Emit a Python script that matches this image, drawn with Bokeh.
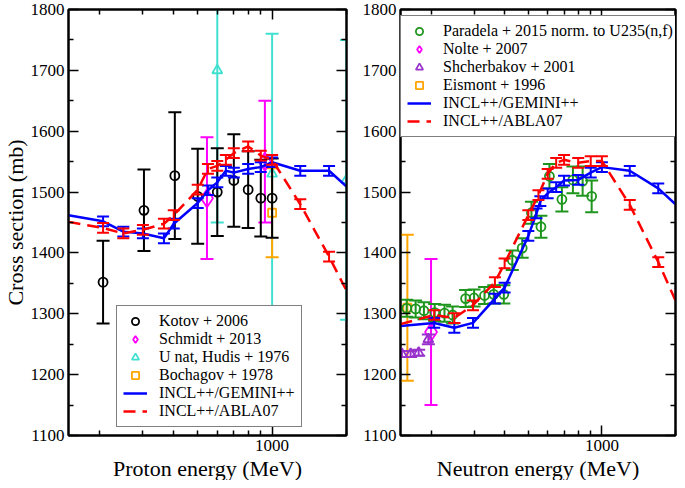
import numpy as np
from bokeh.plotting import figure
from bokeh.layouts import row
from bokeh.models import (FixedTicker, LogAxis, LinearAxis, Legend, LegendItem, Range1d,
                          BasicTickFormatter, Title)
from bokeh.embed import file_html
from bokeh.resources import INLINE

FONT = "Times New Roman"

# ---------------- data: proton-induced (left panel) ----------------
kotov_E = [207, 303, 404, 500, 600, 700, 800, 900, 1000]
kotov_s = [1352, 1470, 1527, 1493, 1500, 1519, 1504, 1490, 1490]
kotov_e = [68, 67, 104, 78, 72, 76, 63, 63, 65]

schmidt_E = [545, 935]
schmidt_s = [1490, 1550]
schmidt_e = [100, 100]

hudis_E = [600, 1000, 2000]
hudis_s = [1700, 1530, 1520]
hudis_e = [250, 230, 230]

bochagov_E = [1000]
bochagov_s = [1466]
bochagov_e = [73]

gem_p_E = [150, 207, 250, 300, 365, 400, 500, 550, 600, 650, 700, 800, 900, 1000, 1300, 1700, 2000]
gem_p_s = [1462, 1452, 1435, 1432, 1424, 1448, 1482, 1503, 1516, 1535, 1532, 1538, 1541, 1549, 1535, 1535, 1509]
gem_p_e = [0, 8, 8, 8, 8, 8, 8, 8, 8, 8, 8, 8, 8, 8, 8, 8, 0]

abla_p_E = [150, 207, 250, 300, 365, 400, 500, 550, 600, 650, 700, 800, 900, 1000, 1300, 1700, 2000]
abla_p_s = [1451, 1441, 1432, 1438, 1448, 1462, 1504, 1538, 1543, 1553, 1564, 1575, 1560, 1553, 1480, 1394, 1338]
abla_p_e = [0, 8, 8, 8, 8, 8, 8, 8, 8, 8, 8, 8, 8, 8, 8, 8, 0]

# ---------------- data: neutron-induced (right panel) ----------------
paradela_E = [159, 173, 187, 207, 227, 245, 277, 300, 331, 361, 397, 430, 472, 515, 563, 610, 686, 761, 834, 908]
paradela_s = [1309, 1308, 1305, 1302, 1301, 1298, 1325, 1326, 1330, 1332, 1332, 1388, 1408, 1466, 1443, 1526, 1488, 1520, 1518, 1493]
paradela_e = [14, 14, 14, 14, 14, 14, 14, 14, 14, 15, 15, 16, 16, 18, 18, 20, 20, 22, 24, 26]

nolte_E = [200]
nolte_s = [1270]
nolte_e = [120]

shch_E = [152, 165, 178, 195]
shch_s = [1234, 1234, 1236, 1258]
shch_e = [5, 5, 5, 8]

eismont_E = [160]
eismont_s = [1310]
eismont_e = [120]

gem_n_E = [150, 206, 249, 297, 365, 400, 500, 540, 560, 600, 650, 700, 800, 900, 1000, 1300, 1700, 2000]
gem_n_s = [1280, 1285, 1277, 1285, 1325, 1343, 1428, 1465, 1485, 1498, 1508, 1519, 1520, 1532, 1541, 1535, 1506, 1480]
gem_n_e = [0, 8, 8, 8, 8, 8, 8, 8, 8, 8, 8, 8, 8, 8, 8, 8, 8, 0]

abla_n_E = [150, 206, 249, 297, 365, 400, 500, 550, 600, 650, 700, 800, 900, 1000, 1300, 1700, 2000]
abla_n_s = [1283, 1298, 1293, 1314, 1352, 1383, 1462, 1495, 1530, 1548, 1553, 1548, 1551, 1551, 1479, 1385, 1322]
abla_n_e = [0, 8, 8, 8, 8, 8, 8, 8, 8, 8, 8, 8, 8, 8, 8, 8, 0]

y_major = [1100, 1200, 1300, 1400, 1500, 1600, 1700, 1800]
y_minor = [1150, 1250, 1350, 1450, 1550, 1650, 1750]
x_major = [1000]
x_minor = [200, 300, 400, 500, 600, 700, 800, 900, 2000]

FH = 426


def style_axis(ax, labels=True):
    ax.axis_line_width = 2
    ax.axis_line_color = "black"
    ax.major_tick_in = 10
    ax.major_tick_out = 0
    ax.minor_tick_in = 5
    ax.minor_tick_out = 0
    ax.major_tick_line_width = 1.5
    ax.minor_tick_line_width = 1.5
    ax.major_tick_line_color = "black"
    ax.minor_tick_line_color = "black"
    ax.major_label_text_font = FONT
    if labels:
        ax.major_label_text_color = "black"
        ax.major_label_text_font_size = "17px"
        ax.major_label_standoff = 4
    else:
        ax.major_label_text_color = None
        ax.major_label_text_font_size = "1px"
        ax.major_label_standoff = 0


def axis_title(text):
    return Title(text=text, align="center", text_font=FONT, text_font_size="22px",
                 text_font_style="normal", text_color="black", standoff=0, offset=0)


def make_fig(xlabel, ylabel, bl, fw, br):
    p = figure(x_axis_type="log", x_range=Range1d(150, 2000), y_range=Range1d(1100, 1800),
               frame_width=fw, frame_height=FH, min_border_left=bl, min_border_right=br,
               min_border_top=9, min_border_bottom=4,
               output_backend="svg", toolbar_location=None)
    p.grid.visible = False
    p.outline_line_color = "black"
    p.outline_line_width = 2
    p.background_fill_color = "white"
    p.border_fill_color = "white"
    p.xaxis.ticker = FixedTicker(ticks=x_major, minor_ticks=x_minor)
    p.xaxis.formatter = BasicTickFormatter(use_scientific=False)
    p.yaxis.ticker = FixedTicker(ticks=y_major, minor_ticks=y_minor)
    for ax in p.xaxis:
        style_axis(ax, True)
    for ax in p.yaxis:
        style_axis(ax, True)
    top = LogAxis(ticker=FixedTicker(ticks=x_major, minor_ticks=x_minor))
    style_axis(top, False)
    p.add_layout(top, "above")
    right = LinearAxis(ticker=FixedTicker(ticks=y_major, minor_ticks=y_minor))
    style_axis(right, False)
    p.add_layout(right, "right")
    p.add_layout(axis_title(xlabel), "below")
    if ylabel:
        p.add_layout(axis_title(ylabel), "left")
    return p


def errbars(p, x, y, e, color, width=2, cap=12):
    x = np.asarray(x, float)
    y = np.asarray(y, float)
    e = np.asarray(e, float)
    m = e > 0
    lo = y[m] - e[m]
    hi = y[m] + e[m]
    p.segment(x0=x[m], y0=lo, x1=x[m], y1=hi, line_color=color, line_width=width)
    p.scatter(np.r_[x[m], x[m]], np.r_[lo, hi], marker="dash", size=cap,
              line_color=color, line_width=width)


def data_series(p, x, y, e, color, marker, size):
    errbars(p, x, y, e, color, 2, 13)
    return p.scatter(x, y, marker=marker, size=size, line_color=color,
                     fill_color=None, line_width=1.8)


def model_series(p, x, y, e, color, dash):
    r = p.line(x, y, line_color=color, line_width=2.5, line_dash=dash)
    errbars(p, x, y, e, color, 2, 12)
    return r


def style_legend(lg):
    lg.label_text_font = FONT
    lg.label_text_font_size = "16px"
    lg.label_text_color = "black"
    lg.border_line_color = "black"
    lg.border_line_width = 1.5
    lg.background_fill_color = "white"
    lg.background_fill_alpha = 1.0
    lg.padding = 6
    lg.spacing = 0
    lg.glyph_width = 24
    lg.glyph_height = 18
    lg.label_height = 18
    lg.label_standoff = 12
    lg.margin = 0


# ---------------- left panel ----------------
p1 = make_fig("Proton energy (MeV)", "Cross section (mb)", 62, 278, 8)
r_hud = data_series(p1, hudis_E, hudis_s, hudis_e, "#40e0d0", "triangle", 10)
r_boc = data_series(p1, bochagov_E, bochagov_s, bochagov_e, "#ffa500", "square", 8)
r_sch = data_series(p1, schmidt_E, schmidt_s, schmidt_e, "#ff00ff", "diamond", 18)
r_kot = data_series(p1, kotov_E, kotov_s, kotov_e, "black", "circle", 9)
r_gp = model_series(p1, gem_p_E, gem_p_s, gem_p_e, "#0000ff", "solid")
r_ap = model_series(p1, abla_p_E, abla_p_s, abla_p_e, "#ff0000", "12 7")

lg1 = Legend(items=[
    LegendItem(label="Kotov + 2006", renderers=[r_kot]),
    LegendItem(label="Schmidt + 2013", renderers=[r_sch]),
    LegendItem(label="U nat, Hudis + 1976", renderers=[r_hud]),
    LegendItem(label="Bochagov + 1978", renderers=[r_boc]),
    LegendItem(label="INCL++/GEMINI++", renderers=[r_gp]),
    LegendItem(label="INCL++/ABLA07", renderers=[r_ap]),
], location=(48, 8))
style_legend(lg1)
p1.add_layout(lg1)

# ---------------- right panel ----------------
p2 = make_fig("Neutron energy (MeV)", None, 46, 275, 3)
r_eis = data_series(p2, eismont_E, eismont_s, eismont_e, "#ffa500", "square", 8)
r_nol = data_series(p2, nolte_E, nolte_s, nolte_e, "#ff00ff", "diamond", 18)
r_shc = data_series(p2, shch_E, shch_s, shch_e, "#9932cc", "triangle", 10)
r_par = data_series(p2, paradela_E, paradela_s, paradela_e, "#1e961e", "circle", 9)
r_gn = model_series(p2, gem_n_E, gem_n_s, gem_n_e, "#0000ff", "solid")
r_an = model_series(p2, abla_n_E, abla_n_s, abla_n_e, "#ff0000", "12 7")

lg2 = Legend(items=[
    LegendItem(label="Paradela + 2015 norm. to U235(n,f)", renderers=[r_par]),
    LegendItem(label="Nolte + 2007", renderers=[r_nol]),
    LegendItem(label="Shcherbakov + 2001", renderers=[r_shc]),
    LegendItem(label="Eismont + 1996", renderers=[r_eis]),
    LegendItem(label="INCL++/GEMINI++", renderers=[r_gn]),
    LegendItem(label="INCL++/ABLA07", renderers=[r_an]),
], location=(0, FH - 120 - 8))
style_legend(lg2)
lg2.label_width = 227
p2.add_layout(lg2)

layout = row(p1, p2)
open("out.html", "w").write(file_html(layout, INLINE))
